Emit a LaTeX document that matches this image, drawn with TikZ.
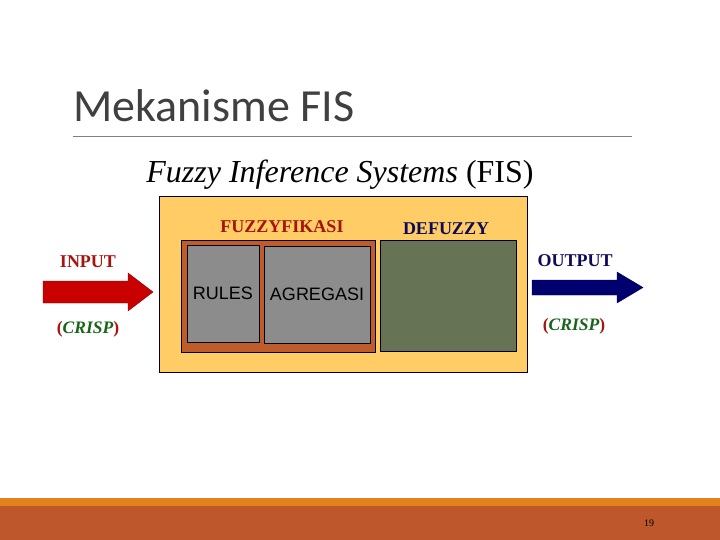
\documentclass[tikz,border=0pt]{standalone}
\usepackage{fontspec}
\setmainfont{Liberation Serif}
\setsansfont{Liberation Sans}
\newfontfamily\titlefont{Carlito}
\usepackage{tikz}
\definecolor{fisbg}{RGB}{255,204,102}
\definecolor{fuzbrown}{RGB}{190,92,45}
\definecolor{boxgray}{RGB}{140,140,140}
\definecolor{defgreen}{RGB}{102,115,85}
\definecolor{darkred}{RGB}{165,20,15}
\definecolor{navy}{RGB}{15,10,85}
\definecolor{crispgreen}{RGB}{25,100,25}
\definecolor{arrowred}{RGB}{200,0,0}
\definecolor{arrownavy}{RGB}{0,0,110}
\definecolor{barorange}{RGB}{225,130,30}
\definecolor{barbrown}{RGB}{190,88,44}
\tikzstyle{panel} = [rectangle, draw=black, line width=0.8pt, inner sep=0pt]
\tikzstyle{label} = [font=\fontsize{18}{18}\selectfont\bfseries, inner sep=0pt]
\tikzstyle{crisp} = [font=\fontsize{17.5}{17.5}\selectfont\bfseries, inner sep=0pt]
\tikzstyle{inner} = [font=\sffamily\fontsize{18}{18}\selectfont, text=black]

\begin{document}
\begin{tikzpicture}[x=1pt, y=-1pt]
        \useasboundingbox (0,0) rectangle (720,540);
        \fill[white] (0,0) rectangle (720,540);

        % title
        \node (title) [anchor=base west, inner sep=0pt, text=black!75, font=\titlefont\fontsize{46}{46}\selectfont] at (73,122) {Mekanisme FIS};
        \draw [black!50, line width=0.8pt] (73,136) -- (632,136);
        \node (sub) [inner sep=0pt, anchor=base, font=\fontsize{32}{32}\selectfont] at (340,183) {\textit{Fuzzy Inference Systems} (FIS)};

        % boxes
        \node (fis) [panel, fill=fisbg, minimum width=368, minimum height=176] at (343,284) {};
        \node (fuz) [panel, fill=fuzbrown, minimum width=194, minimum height=112] at (278,296) {};
        \node (rules) [panel, inner, fill=boxgray, minimum width=72, minimum height=97] at (223,293.5) {RULES};
        \node (agr) [panel, inner, fill=boxgray, minimum width=106, minimum height=97] at (317,294.5) {AGREGASI};
        \node (def) [panel, fill=defgreen, minimum width=136, minimum height=111] at (448,295.5) {};
        \node (fuzlbl) [label, text=darkred, anchor=base] at (282,233) {FUZZYFIKASI};
        \node (deflbl) [label, text=navy, anchor=base] at (446,234) {DEFUZZY};

        % input side
        \node (in) [label, text=darkred, anchor=base] at (88,267) {INPUT};
        \fill [arrowred, draw=arrowred!70!black] (43,281) -- (128,281) -- (128,273) -- (153,292) -- (128,311) -- (128,303) -- (43,303) -- cycle;
        \node (incrisp) [crisp, text=darkred, anchor=base] at (88,333) {(\textcolor{crispgreen}{\textit{CRISP}})};

        % output side
        \node (out) [label, text=navy, anchor=base] at (575,266) {OUTPUT};
        \fill [arrownavy, draw=arrownavy!70!black] (532,280) -- (617,280) -- (617,272) -- (643,287.5) -- (617,303) -- (617,295) -- (532,295) -- cycle;
        \node (outcrisp) [crisp, text=darkred, anchor=base] at (574,330) {(\textcolor{crispgreen}{\textit{CRISP}})};

        % footer
        \fill [barorange] (0,498) rectangle (720,506);
        \fill [barbrown] (0,506) rectangle (720,540);
        \node (page) [inner sep=0pt, anchor=base, font=\fontsize{10}{10}\selectfont] at (649,526) {19};
    \end{tikzpicture}
\end{document}
